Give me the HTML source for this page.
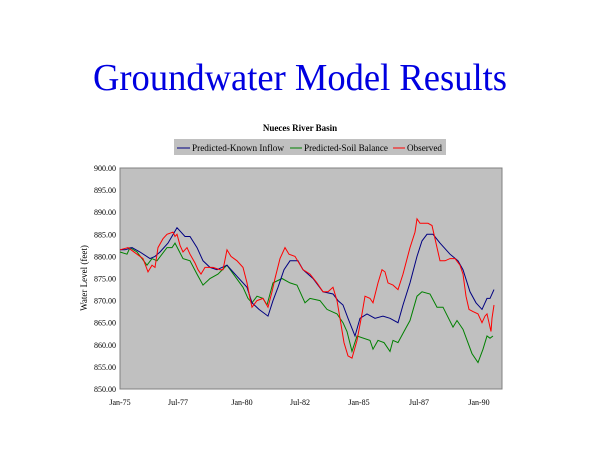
<!DOCTYPE html>
<html><head><meta charset="utf-8"><style>
html,body{margin:0;padding:0;background:#fff;}
svg{display:block;font-family:"Liberation Serif",serif;}
</style></head><body>
<svg id="s" width="600" height="450" viewBox="0 0 600 450">
<text x="93" y="90" font-size="38" fill="#0000e0" textLength="414" lengthAdjust="spacingAndGlyphs">Groundwater Model Results</text>
<text x="300" y="131" font-size="9" font-weight="bold" text-anchor="middle">Nueces River Basin</text>
<rect x="174" y="139" width="272" height="16" fill="#c0c0c0"/>
<line x1="177" y1="148" x2="190" y2="148" stroke="#000080"/>
<text x="192" y="151" font-size="9" textLength="92" lengthAdjust="spacingAndGlyphs">Predicted-Known Inflow</text>
<line x1="290" y1="148" x2="302" y2="148" stroke="#008000"/>
<text x="304" y="151" font-size="9" textLength="84" lengthAdjust="spacingAndGlyphs">Predicted-Soil Balance</text>
<line x1="393" y1="148" x2="405" y2="148" stroke="#ff0000"/>
<text x="407" y="151" font-size="9" textLength="35" lengthAdjust="spacingAndGlyphs">Observed</text>
<rect x="120" y="168" width="382" height="221" fill="#c0c0c0" stroke="#808080" stroke-width="1"/>
<g id="yt" font-size="8" text-anchor="end"></g>
<g font-size="8" text-anchor="middle">
<text x="120" y="405">Jan-75</text><text x="178" y="405">Jul-77</text><text x="242" y="405">Jan-80</text><text x="300" y="405">Jul-82</text><text x="359" y="405">Jan-85</text><text x="419" y="405">Jul-87</text><text x="479" y="405">Jan-90</text>
</g>
<text transform="translate(87,278) rotate(-90)" font-size="9" text-anchor="middle">Water Level (feet)</text>
<polyline id="g" fill="none" stroke="#008000" stroke-width="1"/>
<polyline id="b" fill="none" stroke="#000080" stroke-width="1"/>
<polyline id="r" fill="none" stroke="#ff0000" stroke-width="1"/>
</svg>
<script>
function Y(v){return 168+(900-v)*4.42;}
var yt=document.getElementById('yt'),h='';
for(var v=900;v>=850;v-=5){h+='<text x="116" y="'+(Y(v)+3)+'">'+v+'.00</text>';}
yt.innerHTML=h;
var G=[120,881,127,880.5,130,882,137,881,147,878,152,879.5,157,879,167,882,172,882,175,883,183,879.5,190,879,197,876,203,873.5,210,875,218,876,227,878,235,875.5,243,873,248,870.5,252,869.5,257,871,263,870.5,267,869,273,874,282,875,290,874,297,873.5,305,869.5,310,870.5,320,870,327,868,337,867,343,865,347,863,352,858.5,357,862,370,861,373,859,378,861,384,860.5,390,858.5,393,861,398,860.5,404,863,410,865.5,417,871,422,872,430,871.5,437,868.5,443,868.5,453,864,457,865.5,463,863.5,472,858,478,856,483,859,487,862,490,861.5,493,862];
var B=[120,881.5,125,881.5,132,882,140,881,150,879.5,155,880,160,881,168,883,177,886.5,185,884.5,190,884.5,197,882,203,879,210,877.5,217,877,227,878,237,875.5,247,873,252,869.5,259,868,268,866.5,273,870,278,873,284,877,290,879,298,879,303,877,313,875,323,872,333,871.5,338,870,343,869,348,866,355,862,360,866,367,867,375,866,383,866.5,390,866,398,865,403,869,410,874,417,880,422,883.5,427,885,433,885,440,883,450,880.5,458,879,463,877,470,872,476,869.5,482,868,485,869.5,487,870.5,490,870.5,494,872.5];
var R=[120,881.5,128,882,137,880.5,143,879.5,148,876.5,152,878,155,877.5,158,882,163,884,167,885,173,885.5,175,884.5,177,885,180,882.5,183,881,187,882,190,880.5,195,878.5,198,877,201,876,205,877.5,213,877.5,220,877,223,877,227,881.5,231,880,237,879,243,877.5,247,874,250,870.5,252,868.5,257,870,263,870.5,268,868.5,272,872,275,875,280,879.5,285,882,289,880.5,295,880,303,877,310,876,317,874,323,872,328,872,333,873,337,870,340,866,344,860.5,348,857.5,352,857,357,861,362,867,365,871,370,870.5,373,869.5,378,874,382,877,385,876.5,388,874,393,873.5,398,872.5,403,876,410,882,415,885.5,417,888.5,420,887.5,428,887.5,432,887,436,883,440,879,445,879,450,879.5,455,879.5,460,878,463,876,466,871,469,868,473,867.5,478,867,482,865,485,866.5,487,867,489,865,491,863,492,866,494,869];
function pts(a){var s='';for(var i=0;i<a.length;i+=2)s+=a[i]+','+Y(a[i+1]).toFixed(1)+' ';return s;}
document.getElementById('g').setAttribute('points',pts(G));
document.getElementById('b').setAttribute('points',pts(B));
document.getElementById('r').setAttribute('points',pts(R));
</script>
</body></html>
